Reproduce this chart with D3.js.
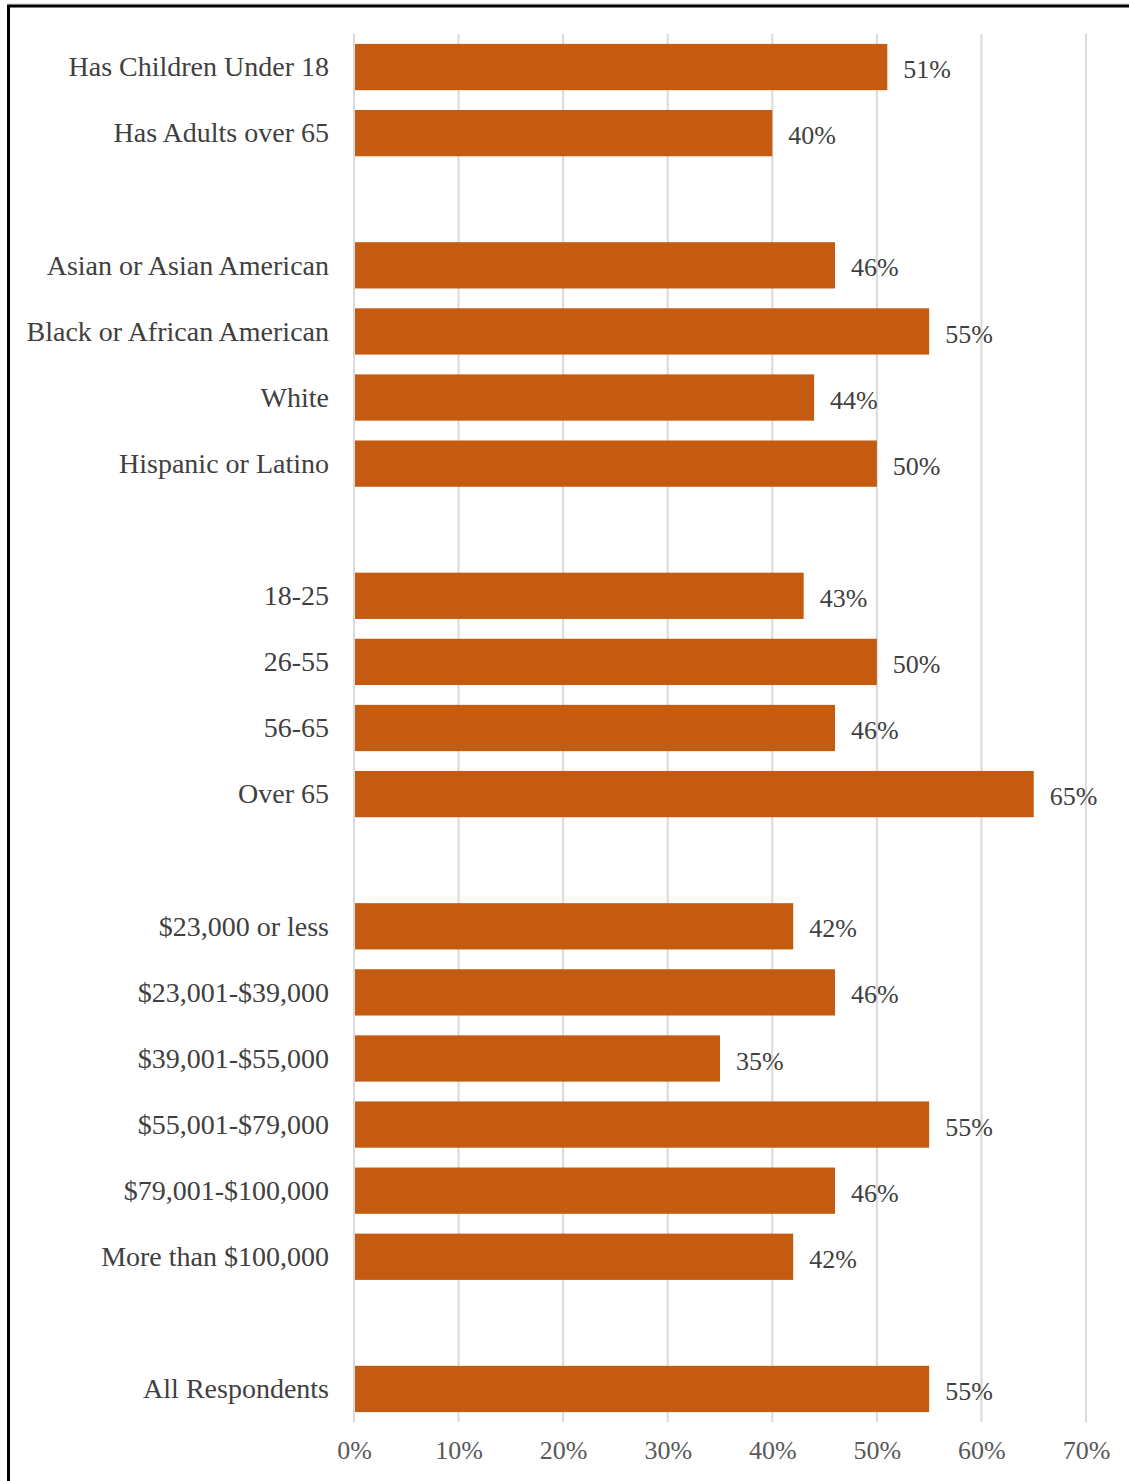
<!DOCTYPE html>
<html>
<head>
<meta charset="utf-8">
<script src="https://cdn.jsdelivr.net/npm/d3@7"></script>
<style>
  html, body { margin: 0; padding: 0; background: #fff; }
  svg { display: block; }
</style>
</head>
<body>
<svg id="chart" width="1129" height="1481"></svg>
<script>
// Row labels, top to bottom; null entries are blank spacer rows between groups
const categories = [
  "Has Children Under 18", "Has Adults over 65", null,
  "Asian or Asian American", "Black or African American", "White", "Hispanic or Latino", null,
  "18-25", "26-55", "56-65", "Over 65", null,
  "$23,000 or less", "$23,001-$39,000", "$39,001-$55,000", "$55,001-$79,000",
  "$79,001-$100,000", "More than $100,000", null,
  "All Respondents"
];
const values = [
  51, 40, null,
  46, 55, 44, 50, null,
  43, 50, 46, 65, null,
  42, 46, 35, 55, 46, 42, null,
  55
];
const tickValues = [0, 10, 20, 30, 40, 50, 60, 70];

const svg = d3.select("#chart");
const W = 1129, H = 1481;

// outer frame
svg.append("line").attr("x1", 8).attr("x2", W + 10).attr("y1", 4).attr("y2", 4)
  .attr("stroke", "#cfcfcf").attr("stroke-width", 1);
svg.append("rect").attr("x", 8.5).attr("y", 6).attr("width", W + 20).attr("height", H + 20)
  .attr("fill", "none").attr("stroke", "#000").attr("stroke-width", 3);

const x = d3.scaleLinear().domain([0, 70]).range([354, 1086]);
const y = d3.scaleBand()
  .domain(categories.map((d, i) => i))
  .range([34, 1422])
  .paddingInner(0.3).paddingOuter(0.15);

// vertical gridlines
svg.append("g").selectAll("line").data(tickValues).join("line")
  .attr("x1", d => x(d)).attr("x2", d => x(d))
  .attr("y1", 34).attr("y2", 1422)
  .attr("stroke", "#d9d9d9").attr("stroke-width", 2);

const rows = categories.map((c, i) => ({ c, v: values[i], i })).filter(d => d.c !== null);

// bars
svg.append("g").selectAll("rect").data(rows).join("rect")
  .attr("x", x(0) + 1)
  .attr("y", d => y(d.i))
  .attr("width", d => x(d.v) - x(0) - 1)
  .attr("height", y.bandwidth())
  .attr("fill", "#C55A11");

const font = "'Liberation Serif', 'Times New Roman', serif";

// category labels
svg.append("g").selectAll("text").data(rows).join("text")
  .attr("x", 329)
  .attr("y", d => y(d.i) + y.bandwidth() / 2)
  .attr("dy", "0.33em")
  .attr("text-anchor", "end")
  .attr("font-family", font).attr("font-size", 28)
  .attr("fill", "#404040")
  .text(d => d.c);

// value labels
svg.append("g").selectAll("text").data(rows).join("text")
  .attr("x", d => x(d.v) + 16)
  .attr("y", d => y(d.i) + y.bandwidth() / 2 + 2)
  .attr("dy", "0.35em")
  .attr("font-family", font).attr("font-size", 26)
  .attr("fill", "#404040")
  .text(d => d.v + "%");

// bottom axis
const axis = d3.axisBottom(x).tickValues(tickValues).tickSize(0).tickFormat(d => d + "%");
const gAxis = svg.append("g").attr("transform", "translate(0,1438)").call(axis);
gAxis.select(".domain").remove();
gAxis.selectAll("text")
  .attr("font-family", font).attr("font-size", 26)
  .attr("fill", "#595959");
</script>
</body>
</html>
